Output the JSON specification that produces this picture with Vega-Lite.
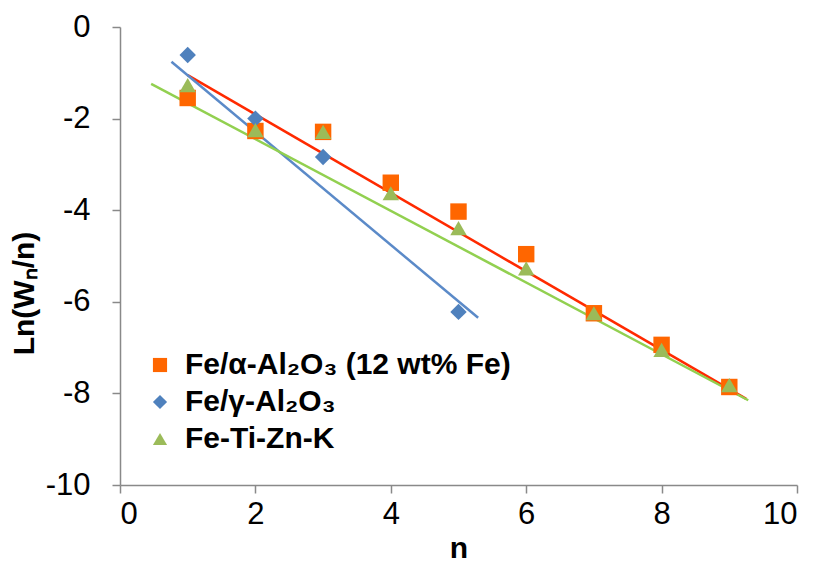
{
  "$schema": "https://vega.github.io/schema/vega-lite/v6.json",
  "width": 677,
  "height": 458,
  "autosize": "none",
  "padding": {"left": 120, "top": 27, "right": 22, "bottom": 90},
  "background": "white",
  "config": {
    "view": {"stroke": null},
    "font": "Liberation Sans",
    "axis": {
      "grid": false,
      "domainColor": "#898989",
      "tickColor": "#898989",
      "domainWidth": 1.5,
      "tickWidth": 1.5,
      "tickSize": 8,
      "labelFont": "Liberation Sans",
      "labelColor": "#000000",
      "titleFont": "Liberation Sans",
      "titleFontSize": 30,
      "titleFontWeight": "bold",
      "titleColor": "#000000"
    }
  },
  "datasets": {
    "pts": [
      {"series": "Fe/α-Al₂O₃ (12 wt% Fe)", "n": 1, "v": -1.55},
      {"series": "Fe/α-Al₂O₃ (12 wt% Fe)", "n": 2, "v": -2.27},
      {"series": "Fe/α-Al₂O₃ (12 wt% Fe)", "n": 3, "v": -2.29},
      {"series": "Fe/α-Al₂O₃ (12 wt% Fe)", "n": 4, "v": -3.4},
      {"series": "Fe/α-Al₂O₃ (12 wt% Fe)", "n": 5, "v": -4.03},
      {"series": "Fe/α-Al₂O₃ (12 wt% Fe)", "n": 6, "v": -4.96},
      {"series": "Fe/α-Al₂O₃ (12 wt% Fe)", "n": 7, "v": -6.25},
      {"series": "Fe/α-Al₂O₃ (12 wt% Fe)", "n": 8, "v": -6.94},
      {"series": "Fe/α-Al₂O₃ (12 wt% Fe)", "n": 9, "v": -7.86},
      {"series": "Fe/γ-Al₂O₃", "n": 1, "v": -0.61},
      {"series": "Fe/γ-Al₂O₃", "n": 2, "v": -2.0},
      {"series": "Fe/γ-Al₂O₃", "n": 3, "v": -2.84},
      {"series": "Fe/γ-Al₂O₃", "n": 5, "v": -6.22},
      {"series": "Fe-Ti-Zn-K", "n": 1, "v": -1.27},
      {"series": "Fe-Ti-Zn-K", "n": 2, "v": -2.25},
      {"series": "Fe-Ti-Zn-K", "n": 3, "v": -2.29},
      {"series": "Fe-Ti-Zn-K", "n": 4, "v": -3.63},
      {"series": "Fe-Ti-Zn-K", "n": 5, "v": -4.39},
      {"series": "Fe-Ti-Zn-K", "n": 6, "v": -5.27},
      {"series": "Fe-Ti-Zn-K", "n": 7, "v": -6.25},
      {"series": "Fe-Ti-Zn-K", "n": 8, "v": -7.05},
      {"series": "Fe-Ti-Zn-K", "n": 9, "v": -7.82}
    ],
    "fits": [
      {"fit": "a", "n": 1.0, "v": -1.05},
      {"fit": "a", "n": 9.25, "v": -8.12},
      {"fit": "g", "n": 0.76, "v": -0.76},
      {"fit": "g", "n": 5.29, "v": -6.35},
      {"fit": "t", "n": 0.46, "v": -1.24},
      {"fit": "t", "n": 9.28, "v": -8.15}
    ]
  },
  "layer": [
    {
      "data": {"name": "fits"},
      "mark": {"type": "line", "strokeWidth": 2.5},
      "encoding": {
        "x": {"field": "n", "type": "quantitative"},
        "y": {"field": "v", "type": "quantitative"},
        "detail": {"field": "fit"},
        "stroke": {
          "field": "fit",
          "type": "nominal",
          "scale": {"domain": ["a", "g", "t"], "range": ["#FF2A00", "#5B8AC8", "#92D050"]},
          "legend": null
        }
      }
    },
    {
      "data": {"name": "pts"},
      "mark": {"type": "point", "filled": true, "opacity": 1, "size": 270},
      "encoding": {
        "x": {
          "field": "n",
          "type": "quantitative",
          "title": "n",
          "scale": {"domain": [0, 10], "nice": false, "zero": false},
          "axis": {"values": [0, 2, 4, 6, 8, 10], "labelExpr": "'' + datum.value", "labelFontSize": 31, "labelPadding": 6, "titlePadding": 4}
        },
        "y": {
          "field": "v",
          "type": "quantitative",
          "title": "Ln(Wₙ/n)",
          "scale": {"domain": [-10, 0], "nice": false, "zero": false},
          "axis": {"values": [-10, -8, -6, -4, -2, 0], "labelExpr": "'' + datum.value", "labelFontSize": 31, "labelPadding": 22, "titlePadding": 6, "titleY": 266}
        },
        "color": {
          "field": "series",
          "type": "nominal",
          "scale": {
            "domain": ["Fe/α-Al₂O₃ (12 wt% Fe)", "Fe/γ-Al₂O₃", "Fe-Ti-Zn-K"],
            "range": ["#FF6600", "#4F81BD", "#9BBB59"]
          },
          "legend": {
            "title": null,
            "orient": "none",
            "legendX": 25,
            "legendY": 323,
            "labelFont": "Liberation Sans",
            "labelFontSize": 30,
            "labelFontWeight": "bold",
            "labelColor": "#000000",
            "labelLimit": 600,
            "symbolSize": 200,
            "rowPadding": 7,
            "labelOffset": 10
          }
        },
        "shape": {
          "field": "series",
          "type": "nominal",
          "scale": {
            "domain": ["Fe/α-Al₂O₃ (12 wt% Fe)", "Fe/γ-Al₂O₃", "Fe-Ti-Zn-K"],
            "range": ["square", "diamond", "triangle-up"]
          },
          "legend": null
        }
      }
    }
  ]
}
